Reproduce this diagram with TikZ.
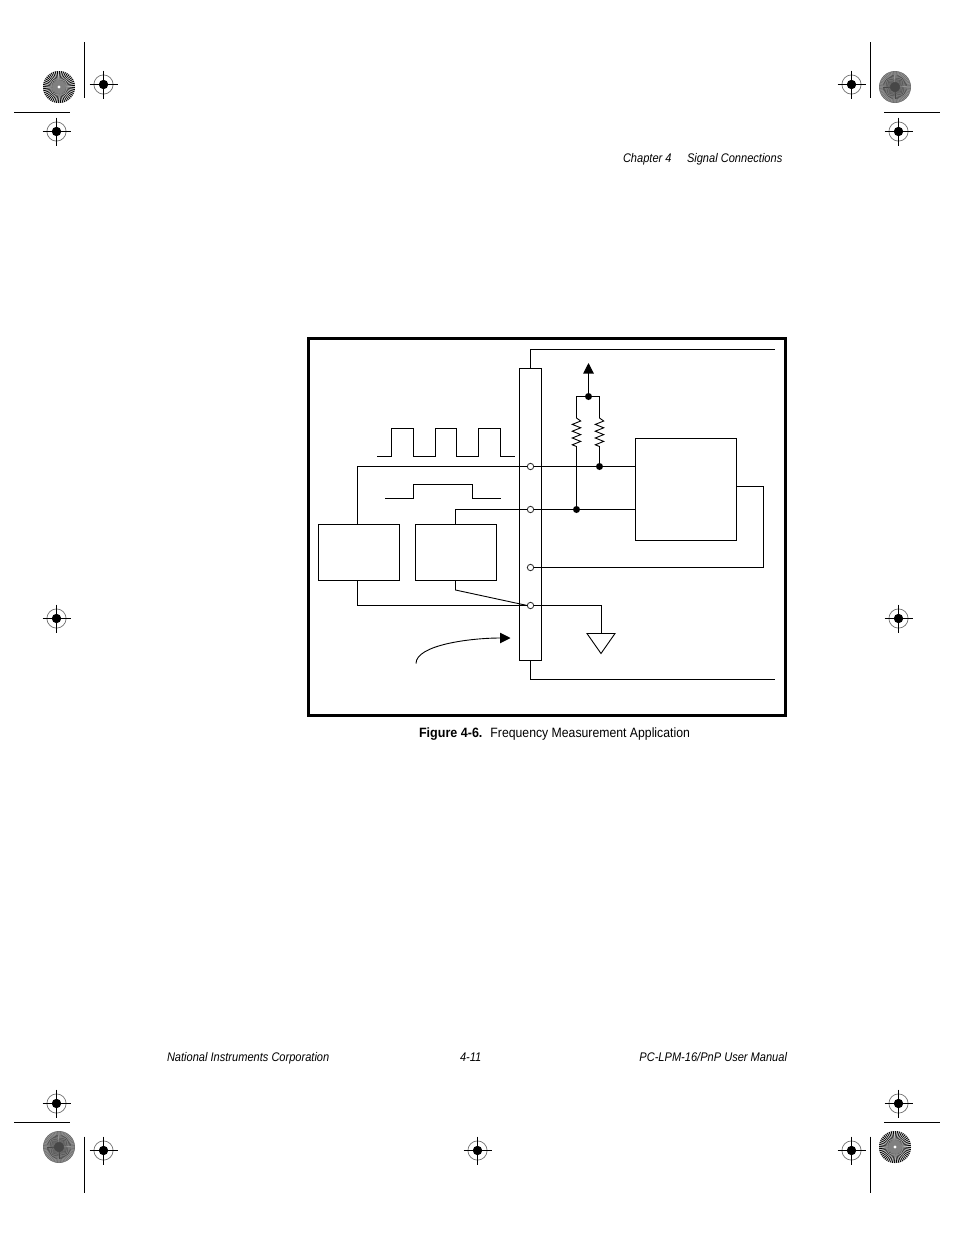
\documentclass[tikz,border=0pt]{standalone}
\usepackage{fontspec}
\setmainfont{Liberation Sans}[FakeStretch=0.885]
\newfontfamily\capfont{Liberation Sans}[FakeStretch=0.93]
\newfontfamily\capreg{Liberation Sans}[FakeStretch=0.907]
\usetikzlibrary{arrows.meta}
\tikzset{
  wire/.style={draw=black,line width=1.05pt,line join=miter},
  blk/.style={draw=black,line width=1.05pt,fill=white,rectangle,inner sep=0pt,outer sep=0pt},
  term/.style={circle,draw=black!85,line width=0.8pt,fill=white,minimum size=6.4pt,inner sep=0pt,outer sep=0pt},
  jdot/.style={circle,fill=black,minimum size=7pt,inner sep=0pt,outer sep=0pt},
  txt/.style={inner sep=0pt,outer sep=0pt,font=\fontsize{12.5}{14}\selectfont},
  pics/regmark/.style={code={
    \fill[black] (0,0) circle (4.7);
    \draw[black!55,line width=0.7pt] (0,0) circle (9.6);
    \draw[black,line width=1pt] (-14,0) -- (14,0) (0,-14) -- (0,14);
  }},
  pics/burst/.style={code={
    \fill[black!45] (0,0) circle (16);
    \foreach \a in {0,7.5,...,352.5}{
      \fill[black] (\a:6) -- (\a:16) arc[start angle=\a,end angle=\a+3.75,radius=16] -- cycle;
      \fill[white!80!black] (\a+3.75:6) -- (\a+3.75:16) arc[start angle=\a+3.75,end angle=\a+7.5,radius=16] -- cycle;
    }
    \fill[black!50] (0,0) circle (6.5);
    \fill[white] (0,0) circle (1.6);
  }},
  pics/grayburst/.style={code={
    \fill[black!58] (0,0) circle (16);
    \foreach \a in {0,6,...,354}{
      \draw[black!72,line width=0.8pt] (\a:1) -- (\a:12);
      \draw[black!42,line width=0.7pt] (\a+3:5) -- (\a+3:15.5);
    }
  }},
}
\begin{document}
\begin{tikzpicture}[x=1pt,y=-1pt]
\useasboundingbox[fill=white] (0,0) rectangle (954,1235);

% printer's marks
\foreach \p in {(103.5,84.5),(56.5,131.5),(851.5,84.5),(898.5,131.5),(56.5,618.5),(898.5,618.5),(56.5,1103.5),(103.5,1150.5),(477.5,1150.5),(851.5,1150.5),(898.5,1103.5)}
  \pic at \p {regmark};
\pic at (59,87) {burst};
\pic at (895,87) {grayburst};
\pic at (59,1147) {grayburst};
\pic at (895,1147) {burst};
\draw[black,line width=1pt]
  (84.5,42) -- (84.5,97.5) (14,112.5) -- (70,112.5)
  (870.5,42) -- (870.5,97.5) (884,112.5) -- (940,112.5)
  (14,1122.5) -- (70,1122.5) (84.5,1136.5) -- (84.5,1192.5)
  (884,1122.5) -- (940,1122.5) (870.5,1136.5) -- (870.5,1192.5);

% header, footer, caption
\node[txt,anchor=base west] (hd1) at (623,162) {\itshape Chapter 4};
\node[txt,anchor=base west] (hd2) at (687,162) {\itshape Signal Connections};
\node[txt,anchor=base west] (ft1) at (167,1061) {\itshape National Instruments Corporation};
\node[txt,anchor=base west] (ft2) at (460,1061) {\itshape 4-11};
\node[txt,anchor=base east] (ft3) at (787,1061) {\itshape PC-LPM-16/PnP User Manual};
\node[txt,anchor=base west,font=\fontsize{13.5}{15}\selectfont] (cap) at (419,737) {{\capfont\bfseries Figure 4-6.}\hspace{8pt}{\capreg Frequency Measurement Application}};

% frame
\draw[black,line width=3pt] (308.5,338.5) rectangle (785.5,715);

% connector block and blocks
\node[blk,minimum width=22pt,minimum height=292pt] (conn) at (530.5,514.5) {};
\node[blk,minimum width=81pt,minimum height=56pt] (b1) at (359,552.5) {};
\node[blk,minimum width=81pt,minimum height=56pt] (b2) at (456,552.5) {};
\node[blk,minimum width=101pt,minimum height=102pt] (b3) at (686,489.5) {};

% terminals
\node[term] (t1) at (530.5,466.5) {};
\node[term] (t2) at (530.5,509.5) {};
\node[term] (t3) at (530.5,567.5) {};
\node[term] (t4) at (530.5,605.5) {};

% junctions
\node[jdot] (j1) at (599.5,466.5) {};
\node[jdot] (j2) at (576.5,509.5) {};
\node[jdot] (j3) at (588.5,396.5) {};

% free ends
\coordinate (cabT) at (775,349.5);
\coordinate (cabB) at (775,679.5);
\coordinate (vcc) at (588.5,363);
\coordinate (bx1) at (357.5,0);
\coordinate (bx2) at (455.5,0);
\coordinate (gnd) at (601.5,633.5);

% cable outline
\draw[wire] (conn.north) -- (conn.north |- cabT) -- (cabT);
\draw[wire] (conn.south) -- (conn.south |- cabB) -- (cabB);

% signal wires
\draw[wire] (bx1 |- b1.north) -- (bx1 |- t1) -- (t1.west);
\draw[wire] (t1.east) -- (j1) -- (b3.west |- t1);
\draw[wire] (bx2 |- b2.north) -- (bx2 |- t2) -- (t2.west);
\draw[wire] (t2.east) -- (j2) -- (b3.west |- t2);
\coordinate (g1) at (736.5,486.5);
\draw[wire] (g1) -- (763.5,486.5) -- (763.5,567.5) -- (t3.east);
\draw[wire] (bx1 |- b1.south) -- (bx1 |- t4) -- (t4.west);
\draw[wire,line width=0.9pt] (bx2 |- b2.south) -- (455.5,590) -- (t4.west);

% ground
\draw[wire] (t4.east) -- (gnd |- t4) -- (gnd);
\draw[black,line width=0.9pt,line join=miter] (587,633.5) -- (615,633.5) -- (601,653.5) -- cycle;

% pull-ups
\draw[wire,line width=0.9pt] (j2) -- (576.5,446.5) -- ++(-4.2,-1.7) -- ++(8.4,-3.4) -- ++(-8.4,-3.4) -- ++(8.4,-3.4) -- ++(-8.4,-3.4) -- ++(8.4,-3.4) -- ++(-8.4,-3.4) -- ++(8.4,-3.4) -- (576.5,418) -- (576.5,396.5) -- (j3);
\draw[wire,line width=0.9pt] (j1) -- (599.5,446.5) -- ++(-4.2,-1.7) -- ++(8.4,-3.4) -- ++(-8.4,-3.4) -- ++(8.4,-3.4) -- ++(-8.4,-3.4) -- ++(8.4,-3.4) -- ++(-8.4,-3.4) -- ++(8.4,-3.4) -- (599.5,418) -- (599.5,396.5) -- (j3);
\draw[wire,-{Triangle[length=10.5pt,width=10.5pt]}] (j3) -- (vcc);

% pulse trains
\draw[wire] (377,456.5) -- (391.5,456.5) -- (391.5,428.5) -- (413.5,428.5) -- (413.5,456.5) -- (435.5,456.5) -- (435.5,428.5) -- (456.5,428.5) -- (456.5,456.5) -- (478.5,456.5) -- (478.5,428.5) -- (500.5,428.5) -- (500.5,456.5) -- (515,456.5);
\draw[wire] (385,498.5) -- (413.5,498.5) -- (413.5,484.5) -- (472.5,484.5) -- (472.5,498.5) -- (501,498.5);

% curved arrow
\coordinate (cs) at (416,663.5);
\coordinate (ce) at (510.5,638);
\draw[black,line width=0.9pt,-{Triangle[length=10.5pt,width=10.5pt]}] (cs) .. controls (416,645) and (470,638) .. (ce);
\end{tikzpicture}
\end{document}
